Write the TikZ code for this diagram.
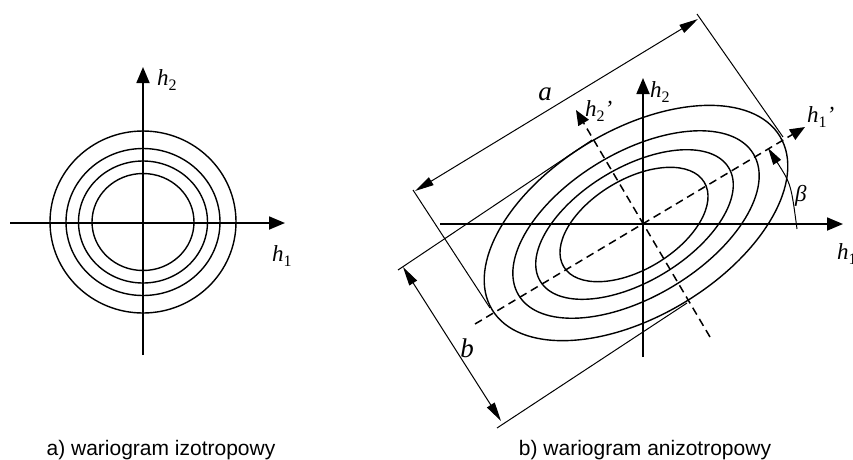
\documentclass[tikz,border=0pt]{standalone}
\usepackage{fontspec}
\setmainfont{Liberation Serif}
\newfontfamily\capfont{Liberation Sans}
\usetikzlibrary{arrows.meta}
\begin{document}
\begin{tikzpicture}[x=1pt,y=-1pt,
  axis/.style={line width=1.8pt, -{Triangle[length=16pt,width=13pt]}},
  ring/.style={line width=1.4pt},
  thinline/.style={line width=1.0pt},
  dimline/.style={line width=1.0pt, {Triangle[length=19pt,width=9pt]}-{Triangle[length=19pt,width=9pt]}},
  daxis/.style={line width=1.5pt, dash pattern=on 8pt off 5pt, -{Triangle[length=15pt,width=12pt]}},
  lbl/.style={font=\fontsize{23}{23}\selectfont\itshape, inner sep=0pt, anchor=base west},
  biglbl/.style={font=\fontsize{27}{27}\selectfont\itshape, inner sep=0pt, anchor=base},
  captext/.style={font=\capfont\fontsize{21}{21}\selectfont, inner sep=0pt, anchor=base}]
\useasboundingbox (0,0) rectangle (853,459);
\newcommand{\sub}[1]{\raisebox{-0.25em}{\fontsize{16}{16}\selectfont\upshape #1}}
% ---------- a) isotropic ----------
\coordinate (L) at (143,222);
\draw[ring] (L) ellipse [x radius=93, y radius=91];
\draw[ring] (L) ellipse [x radius=77, y radius=73.5];
\draw[ring] (L) ellipse [x radius=64.5, y radius=61];
\draw[ring] (L) ellipse [x radius=51, y radius=48.5];
\coordinate (LxS) at (10,223);
\coordinate (LxE) at (285,223);
\coordinate (LyS) at (143,355);
\coordinate (LyE) at (143,67);
\draw[axis] (LxS) -- (LxE);
\draw[axis] (LyS) -- (LyE);
\node[lbl] (lh2) at (157,85) {h\sub{2}};
\node[lbl] (lh1) at (272,261) {h\sub{1}};
\node[captext] (capa) at (161,455) {a) wariogram izotropowy};
% ---------- b) anisotropic ----------
\draw[ring, rotate around={31:(636,223)}] (636,223) ellipse [x radius=168, y radius=93];
\draw[ring, rotate around={31:(636,224.5)}] (636,224.5) ellipse [x radius=137, y radius=72];
\draw[ring, rotate around={31:(634.5,224.5)}] (634.5,224.5) ellipse [x radius=110, y radius=57];
\draw[ring, rotate around={31:(634,224.5)}] (634,224.5) ellipse [x radius=82, y radius=45];
\coordinate (RxS) at (440,224);
\coordinate (RxE) at (843,224);
\coordinate (RyS) at (643,357);
\coordinate (RyE) at (643,78);
\draw[axis] (RxS) -- (RxE);
\draw[axis] (RyS) -- (RyE);
\coordinate (D1S) at (475,324);
\coordinate (D1E) at (805,127);
\coordinate (D2S) at (710,337);
\coordinate (D2E) at (576,110);
\draw[daxis] (D1S) -- (D1E);
\draw[daxis] (D2S) -- (D2E);
% dimension a
\coordinate (aL1) at (413,190);
\coordinate (aL2) at (490,308);
\coordinate (aR1) at (697,14);
\coordinate (aR2) at (783,137);
\draw[thinline] (aL1) -- (aL2);
\draw[thinline] (aR1) -- (aR2);
\coordinate (aA) at (415,191);
\coordinate (aB) at (698,19);
\draw[dimline] (aA) -- (aB);
% dimension b
\coordinate (bT1) at (398,270);
\coordinate (bT2) at (592,140);
\coordinate (bB1) at (497,428);
\coordinate (bB2) at (687,303);
\draw[thinline] (bT1) -- (bT2);
\draw[thinline] (bB1) -- (bB2);
\coordinate (bA) at (403,267);
\coordinate (bB) at (501,421);
\draw[dimline] (bA) -- (bB);
% beta
\coordinate (be1) at (797,229);
\coordinate (be2) at (768,148);
\draw[thinline, -{Triangle[length=17pt,width=9pt]}] (be1) .. controls (791,184) .. (be2);
% labels
\node[lbl] (rh2) at (650,97) {h\sub{2}};
\node[lbl] (rh1) at (837,259) {h\sub{1}};
\node[lbl] (rh1p) at (807,122) {h\sub{1}'};
\node[lbl] (rh2p) at (585,116) {h\sub{2}'};
\node[lbl] (beta) at (795,201) {β};
\node[biglbl] (la) at (545,100) {a};
\node[biglbl] (lb) at (467,357) {b};
\node[captext] (capb) at (645,455) {b) wariogram anizotropowy};
\end{tikzpicture}
\end{document}
